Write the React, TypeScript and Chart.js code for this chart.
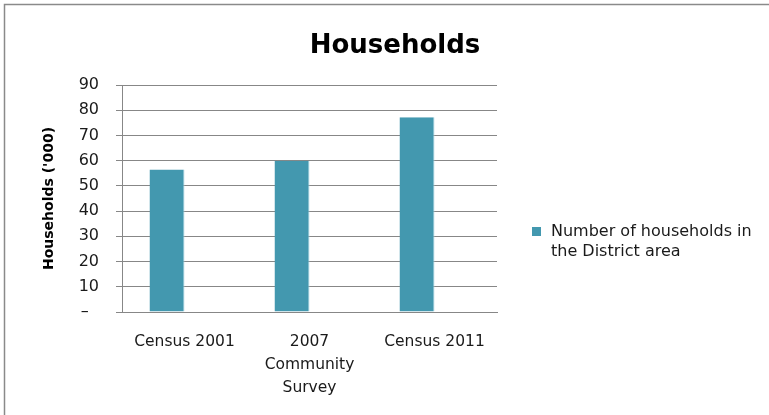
import React, { useEffect, useRef } from 'react';
import { Chart, registerables } from 'chart.js';

Chart.register(...registerables);

const CATEGORIES: (string | string[])[] = ['Census 2001', ['2007', 'Community', 'Survey'], 'Census 2011'];
const HOUSEHOLDS = [56.5, 60, 77.2];
const EMPTY_SERIES = [null, null, null];
const SERIES_LABEL_LINES = ['Number of households in', 'the District area'];
const CHART_TITLE = 'Households';
const Y_TITLE = "Households ('000)";
const Y_MIN = 0;
const Y_MAX = 90;
const Y_STEP = 10;
const ZERO_LABEL = '\u2013\u2007';

const BAR_COLOR = '#4398AF';
const GRID_COLOR = '#878787';
const FONT = "'DejaVu Sans', sans-serif";

const framePlugin = {
  id: 'frame',
  beforeDraw(chart: any) {
    const { ctx, width, height } = chart;
    ctx.save();
    ctx.fillStyle = '#ffffff';
    ctx.fillRect(0, 0, width, height);
    ctx.strokeStyle = '#8a8a8a';
    ctx.lineWidth = 1.5;
    ctx.strokeRect(4.5, 4.5, width + 20, height + 20);
    ctx.restore();
  },
};

const titlePlugin = {
  id: 'customTitle',
  afterDraw(chart: any) {
    const { ctx } = chart;
    ctx.save();
    ctx.font = `bold 26px ${FONT}`;
    ctx.fillStyle = '#000';
    ctx.textAlign = 'center';
    ctx.textBaseline = 'alphabetic';
    ctx.fillText(CHART_TITLE, 395, 53);
    ctx.restore();
  },
};

const legendPlugin = {
  id: 'customLegend',
  afterDraw(chart: any) {
    const { ctx } = chart;
    const ds = chart.data.datasets[0];
    const lines = SERIES_LABEL_LINES;
    ctx.save();
    ctx.fillStyle = ds.backgroundColor;
    ctx.fillRect(532, 227, 9, 9);
    ctx.font = `16px ${FONT}`;
    ctx.fillStyle = '#1a1a1a';
    ctx.textAlign = 'left';
    ctx.textBaseline = 'alphabetic';
    lines.forEach((line, i) => ctx.fillText(line, 551, 236 + i * 19.5));
    ctx.restore();
  },
};

export default function App() {
  const ref = useRef<HTMLCanvasElement>(null);
  useEffect(() => {
    document.body.style.margin = '0';
    const chart = new Chart(ref.current as HTMLCanvasElement, {
      type: 'bar',
      data: {
        labels: CATEGORIES as any,
        datasets: [
          {
            label: SERIES_LABEL_LINES.join(' '),
            data: HOUSEHOLDS,
            backgroundColor: BAR_COLOR,
            borderColor: '#a9d5e1',
            borderWidth: { top: 0, left: 0, bottom: 0, right: 1 },
            borderSkipped: false,
            barPercentage: 1,
            categoryPercentage: 0.56,
          },
          {
            label: '',
            data: EMPTY_SERIES as any,
            backgroundColor: 'rgba(0,0,0,0)',
            barPercentage: 1,
            categoryPercentage: 0.56,
          },
        ],
      },
      options: {
        animation: false,
        responsive: true,
        maintainAspectRatio: false,
        layout: { padding: { left: 37, right: 272, top: 85, bottom: 0 } },
        plugins: {
          legend: { display: false },
          title: { display: false },
          tooltip: { enabled: false },
        },
        scales: {
          x: {
            grid: { display: false, drawTicks: false },
            border: { display: true, color: GRID_COLOR, width: 1 },
            ticks: {
              color: '#1a1a1a',
              padding: 18,
              maxRotation: 0,
              autoSkip: false,
              font: { family: FONT, size: 15.5, lineHeight: 1.5 },
            },
            afterFit: (scale: any) => {
              scale.height = 103;
            },
          },
          y: {
            min: Y_MIN,
            max: Y_MAX,
            grid: { color: GRID_COLOR, tickLength: 6, drawTicks: true, lineWidth: 1 },
            border: { display: true, color: GRID_COLOR, width: 1 },
            ticks: {
              stepSize: Y_STEP,
              color: '#1a1a1a',
              padding: 17,
              font: { family: FONT, size: 16 },
              callback: (v: any) => (Number(v) === 0 ? ZERO_LABEL : String(v)),
            },
            title: {
              display: true,
              text: Y_TITLE,
              color: '#000',
              padding: { top: 4, bottom: 4 },
              font: { family: FONT, size: 14, weight: 'bold', lineHeight: 1.2 },
            },
            afterFit: (scale: any) => {
              scale.width = 85;
            },
          },
        },
      },
      plugins: [framePlugin, titlePlugin, legendPlugin],
    });
    return () => chart.destroy();
  }, []);
  return (
    <div style={{ position: 'absolute', left: 0, top: 0, width: 769, height: 415 }}>
      <canvas ref={ref} />
    </div>
  );
}
